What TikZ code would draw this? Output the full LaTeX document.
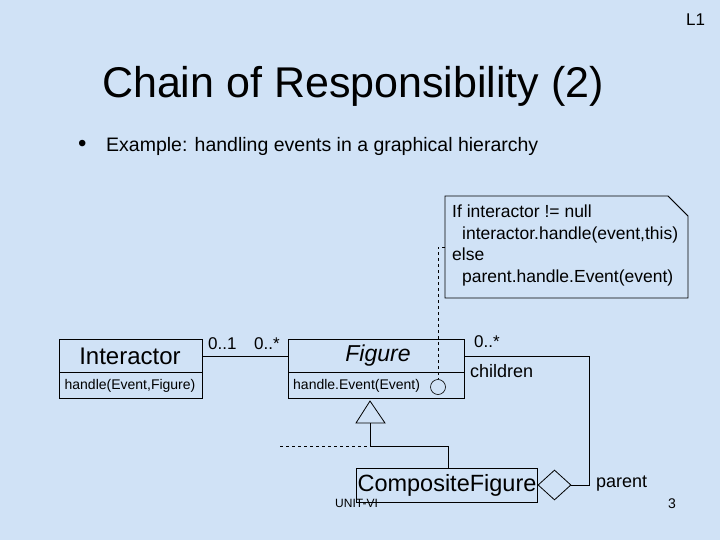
\documentclass[tikz,border=0pt]{standalone}
\usepackage{fontspec}
\usetikzlibrary{shapes.geometric}
\setmainfont{Liberation Sans}
\begin{document}
\begin{tikzpicture}[x=1pt,y=-1pt,
  txt/.style={inner sep=0pt,anchor=west},
  box/.style={draw,line width=0.8pt}]
\fill[fill={rgb,255:red,208;green,226;blue,246}] (0,0) rectangle (720,540);
\useasboundingbox (0,0) rectangle (720,540);
\node[txt,font=\fontsize{17}{19}\selectfont] (l1) at (686,20) {L1};
\node[font=\fontsize{43}{48}\selectfont,inner sep=0pt] (title) at (353,86) {Chain of Responsibility (2)};
\node[txt,font=\fontsize{24}{26}\selectfont] (bul) at (78,146) {•};
\node[txt,font=\fontsize{19.5}{22}\selectfont] (bul2) at (106,146) {Example: handling events in a graphical hierarchy};
% note
\draw[box,fill={rgb,255:red,208;green,226;blue,246}] (445,196) -- (668,196) -- (688,216) -- (688,298) -- (445,298) -- cycle;
\draw[line width=0.6pt] (668,196) -- (688,216);
\node[txt,font=\fontsize{17.5}{21.5}\selectfont,align=left,anchor=north west] (note) at (452,205) {If interactor != null\\\hspace{10pt}interactor.handle(event,this)\\else\\\hspace{10pt}parent.handle.Event(event)};
% Interactor
\draw[box] (59,339) rectangle (202,398);
\draw[box] (59,372) -- (202,372);
\node[font=\fontsize{24}{26}\selectfont,inner sep=0pt] (inter) at (130,356) {Interactor};
\node[font=\fontsize{14}{16}\selectfont,inner sep=0pt] (ih) at (130,386) {handle(Event,Figure)};
% Figure
\draw[box] (288,339) rectangle (464,398);
\draw[box] (288,372) -- (464,372);
\node[font=\itshape\fontsize{23}{26}\selectfont,inner sep=0pt] (fig) at (378,356) {Figure};
\node[txt,font=\fontsize{14}{16}\selectfont] (fh) at (293,386) {handle.Event(Event)};
\node[draw,circle,minimum size=15pt,inner sep=0pt,line width=0.6pt] (circ) at (438,387) {};
\coordinate (nl) at (445,247);
\draw[dashed,line width=0.6pt] (nl) -- (438,247) -- (circ.north);
% association
\coordinate (ia) at (202,356);
\coordinate (fa) at (288,356);
\draw[line width=0.8pt] (ia) -- (fa);
\node[txt,font=\fontsize{17}{19}\selectfont] (m1) at (208,344) {0..1};
\node[txt,font=\fontsize{17}{19}\selectfont] (m2) at (254,344) {0..*};
\node[txt,font=\fontsize{17}{19}\selectfont] (m3) at (474,342) {0..*};
\node[txt,font=\fontsize{18}{20}\selectfont] (ch) at (470,371) {children};
% CompositeFigure
\node[box,font=\fontsize{23.5}{26}\selectfont,inner sep=1pt,minimum width=180pt,minimum height=34pt] (comp) at (447,485) {CompositeFigure};
\node[draw,diamond,line width=0.8pt,minimum width=33pt,minimum height=30pt,inner sep=0pt] (dia) at (554.5,485) {};
\draw[line width=0.8pt] (464,356) -- (589,356) -- (589,485) -- (dia.east);
\node[txt,font=\fontsize{18}{20}\selectfont] (par) at (596,484) {parent};
% generalization
\draw[line width=0.8pt] (370,401) -- (385,423) -- (356,423) -- cycle;
\coordinate (tb) at (370,423);
\coordinate (j) at (370,446);
\draw[line width=0.8pt] (tb) -- (j) -- (448,446) -- (448,468);
\draw[dashed,line width=0.6pt] (280,446) -- (j);
\node[txt,font=\fontsize{12}{14}\selectfont] (unit) at (335,503) {UNIT-VI};
\node[txt,font=\fontsize{14}{16}\selectfont] (pg) at (668,504) {3};
\end{tikzpicture}
\end{document}
